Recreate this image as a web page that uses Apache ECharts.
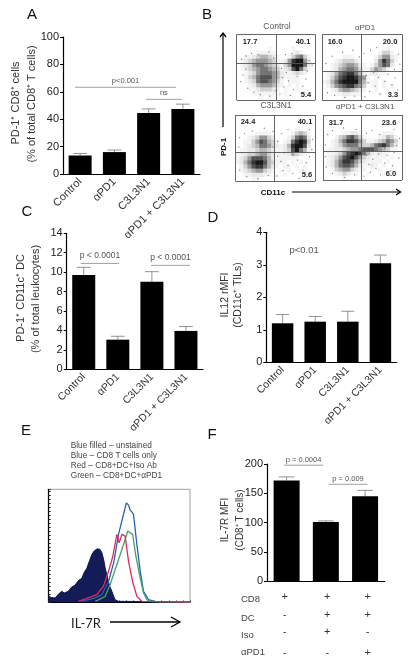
<!DOCTYPE html>
<html><head><meta charset="utf-8">
<style>html,body{margin:0;padding:0;background:#fff}#c{width:416px;height:667px}</style>
<script src="https://cdn.jsdelivr.net/npm/echarts@6/dist/echarts.min.js"></script>
</head><body><div id="c"></div>
<script>
// ---------- bar panels ----------
const groups = ['Control', 'αPD1', 'C3L3N1', 'αPD1 + C3L3N1'];
const aValues = [13.5, 16, 44.5, 47.5];
const aTops   = [15, 17.5, 47.5, 51];
const cValues = [9.7, 3.05, 9.0, 3.95];
const cTops   = [10.5, 3.4, 10.05, 4.4];
const dValues = [1.2, 1.25, 1.25, 3.05];
const dTops   = [1.47, 1.41, 1.57, 3.3];
const fGroups = ['g1', 'g2', 'g3'];
const fValues = [172, 101, 145];
const fTops   = [178, 103, 155];
// significance brackets: [from band, to band, value, text]
const aSig = [[-0.15, 2.8, 63.3, 'p<0.001'], [1.92, 2.97, 54.5, 'ns']];
const cSig = [[-0.09, 1.04, 10.9, 'p < 0.0001'], [1.97, 3.12, 10.7, 'p < 0.0001']];
const dSig = [[0.66, 0.66, 3.25, 'p<0.01']];
const fSig = [[-0.07, 0.93, 198, 'p = 0.0004'], [1.07, 2.06, 165.4, 'p = 0.009']];
// treatment table under F
const fRows = ['CD8', 'DC', 'Iso', 'αPD1'];
const fSigns = [['+','+','+'], ['-','+','+'], ['-','+','-'], ['-','-','+']];

// ---------- flow cytometry density (20 x 16 cells, 0-9) ----------
const dotControl = [
"00000000000000000000","00000000000000000000","00000000000000000000","00000000100000100000",
"00000111110000121000","00112344321001356310","01234555431125899520","01235665432135999620",
"01234566543123796310","00123566654211232100","00134677754211110000","00123677653101110000",
"00012455542101010000","00011233321010010000","00001111110010001000","00000010100000000000"];
const dotPD1 = [
"00000000000000000000","00000000000000000000","00000000000000000000","00000000000000011000",
"00000000000000133100","00000111000001355210","00012333210002586310","00123455421013576200",
"00124566531135431000","01246788642122110000","01357899865101100000","12468999964111010000",
"01356788653011010100","00124554321001001000","00011221110000100010","00000100000000000000"];
const dotC3 = [
"00000000000000000000","00000000000000000000","00000000000000000000","00000000000000011000",
"00000111100000134310","00012355320001367620","00113576431012689830","00123466532124899720",
"01122344321123796410","11233455321112432100","12357776421111110000","12468997431110101000",
"01357886421011010100","01234553210101001000","00112221100010000100","00001100000000000000"];
const dotCombo = [
"00000000000000000000","00000000000000000000","00000000000000000000","00000000000000000000",
"00000112210000011100","00013467531000124310","00124688753112346530","00123566643346786420",
"01122345567776543110","01123578986421211000","01235789753211110100","01246887532111101000",
"01246776421121010000","00134553211010100100","00012321100100010000","00000100000000000000"];
// individual outlying events seen around the clusters: [% across, % down]
const strayControl = [[6,38],[12,33],[19,29],[28,31],[41,27],[47,36],[62,31],[70,29],[92,40],[96,47],[57,52],[63,58],[71,55],[83,52],[90,56],[58,66],[66,71],[77,64],[88,68],[60,80],[72,84],[84,79],[55,91],[68,93],[8,62],[5,72],[14,82],[22,88],[30,92],[42,94],[49,86],[12,53]];
const strayPD1 = [[52,29],[60,24],[68,20],[95,30],[97,45],[12,33],[25,27],[38,24],[46,34],[4,44],[55,62],[64,57],[70,65],[82,60],[91,66],[57,73],[66,78],[78,71],[87,76],[94,84],[59,86],[72,90],[84,88],[53,94],[40,93],[28,95],[15,92],[6,88],[84,39],[76,46],[90,53],[48,80]];
const strayC3 = [[5,34],[11,28],[21,24],[36,20],[47,25],[58,28],[66,22],[93,22],[97,37],[4,48],[8,57],[53,62],[61,57],[72,60],[85,56],[93,63],[57,70],[66,76],[78,68],[89,72],[60,84],[72,88],[85,83],[52,92],[41,91],[28,96],[14,93],[5,83],[47,48],[53,40],[96,52],[80,96]];
const strayCombo = [[6,30],[12,24],[26,20],[42,22],[55,28],[62,24],[72,30],[90,22],[97,36],[3,46],[55,62],[63,68],[70,60],[81,62],[90,58],[96,66],[58,76],[67,82],[78,74],[88,78],[60,88],[73,92],[85,86],[52,94],[40,92],[27,96],[12,90],[4,80],[3,64],[48,72],[93,47],[78,51]];
const quadControl = ['17.7', '40.1', '5.4'];
const quadPD1 = ['16.0', '20.0', '3.3'];
const quadC3 = ['24.4', '40.1', '5.6'];
const quadCombo = ['31.7', '23.6', '6.0'];
// gate positions in percent of the plot
const gateControl = [50.4, 44.2];
const gatePD1 = [48.6, 56];
const gateC3 = [48.5, 56];
const gateCombo = [48.1, 56];

// ---------- histogram E: [intensity, % of max] ----------
const histFilled = [[0,5],[2,4],[4.5,3.5],[7,7],[9.2,9.5],[11,8],[13.9,9.5],[16,13],[18.7,15],[21,19],[23.4,21],[25,26],[27,30],[29,37],[30.5,42],[32,45],[34,47],[36,47],[37.6,44],[39,37],[40,30],[41,25],[42.3,18],[43.5,13],[44.7,9.5],[46,5],[47,2],[49.4,0.6],[100,0]];
const histBlue = [[23.4,0.6],[33,3.6],[37.6,6.5],[42.3,18],[46,35],[49.4,60],[52,73],[55,88],[56.5,86],[57.5,82],[60,78],[62.4,51],[64.8,27],[67.1,9.5],[70.7,2],[75.4,0.3],[100,0]];
const histGreen = [[33,0.6],[40,5],[43.5,15.5],[48.2,33],[51.8,46.6],[56,63],[59.4,60],[61.7,40.6],[64.3,24],[67.1,8],[69.5,2],[73,0.3],[100,0]];
const histRed = [[21,0.6],[28,3.6],[34,6.5],[38.8,14],[42.3,27],[45.4,40.6],[48.2,60],[49.9,52.6],[51.8,60],[54.1,58.5],[56.5,36],[59.4,18],[62.4,5],[65.9,0.6],[100,0]];
const histLegend = ['Blue filled – unstained', 'Blue – CD8 T cells only', 'Red – CD8+DC+Iso Ab', 'Green – CD8+DC+αPD1'];

// ---------- assembling the option ----------
const FONT = '"Liberation Sans", Arial, sans-serif';
const grid = [], xAxis = [], yAxis = [], series = [];

function barPanel(rect, cats, vals, tops, sig, yMax, step, barW, showLabels, labelSize, sigSize, sigGap) {
  const g = grid.length;
  grid.push({left: rect[0], top: rect[1], width: rect[2], height: rect[3]});
  xAxis.push({gridIndex: g, type: 'category', data: cats,
    axisLine: {show: true, onZero: false, lineStyle: {color: '#000', width: 1.2}},
    axisTick: {show: false},
    axisLabel: {show: showLabels, interval: 0, rotate: 45, margin: 6, fontSize: labelSize, fontFamily: FONT, color: '#333'}});
  yAxis.push({gridIndex: g, type: 'value', min: 0, max: yMax, interval: step,
    splitLine: {show: false},
    axisLine: {show: true, lineStyle: {color: '#000', width: 1.2}},
    axisTick: {show: true, length: 3, lineStyle: {color: '#000'}},
    axisLabel: {fontSize: 11, margin: 4, fontFamily: FONT, color: '#222'}});
  series.push({type: 'bar', xAxisIndex: g, yAxisIndex: g, data: vals, barWidth: barW,
    itemStyle: {color: '#000'}, silent: true, z: 2});
  series.push({type: 'custom', xAxisIndex: g, yAxisIndex: g, silent: true, z: 1,
    data: tops.map((t, i) => [i, t, vals[i]]),
    renderItem(p, api) {
      const top = api.coord([api.value(0), api.value(1)]);
      const bot = api.coord([api.value(0), api.value(2)]);
      const s = {stroke: '#777', lineWidth: 0.8};
      return {type: 'group', children: [
        {type: 'line', shape: {x1: top[0], y1: top[1], x2: bot[0], y2: bot[1]}, style: s},
        {type: 'line', shape: {x1: top[0] - barW * 0.3, y1: top[1], x2: top[0] + barW * 0.3, y2: top[1]}, style: s}]};
    }});
  series.push({type: 'custom', xAxisIndex: g, yAxisIndex: g, silent: true, z: 3,
    data: sig.map((s, i) => [i, s[2]]),
    renderItem(p, api) {
      const s = sig[api.value(0)];
      const base = api.coord([0, s[2]]);
      const band = api.size([1, 0])[0];
      const x0 = base[0] + s[0] * band, x1 = base[0] + s[1] * band;
      const kids = [{type: 'text', x: (x0 + x1) / 2, y: base[1] - sigGap,
        style: {text: s[3], font: sigSize + 'px ' + FONT, fill: '#555', textAlign: 'center', textVerticalAlign: 'middle'}}];
      if (x1 > x0) kids.push({type: 'line', shape: {x1: x0, y1: base[1], x2: x1, y2: base[1]},
        style: {stroke: '#777', lineWidth: 0.7}});
      return {type: 'group', children: kids};
    }});
}

barPanel([63, 37, 137, 137], groups, aValues, aTops, aSig, 100, 20, 23, true, 11, 7.5, 6);
barPanel([66.7, 233.3, 136.3, 136], groups, cValues, cTops, cSig, 14, 2, 23, true, 10.5, 8.5, 8);
barPanel([266.3, 232.3, 130.4, 130], groups, dValues, dTops, dSig, 4, 1, 21.5, true, 10.5, 9.5, 6);
barPanel([267, 464, 117.7, 117.3], fGroups, fValues, fTops, fSig, 200, 50, 26, false, 10, 7.5, 5);

// dot plots
const heatSeries = [];
function dotPanel(rect, rows, gate, stray) {
  const g = grid.length;
  grid.push({left: rect[0], top: rect[1], width: rect[2], height: rect[3]});
  xAxis.push({gridIndex: g, type: 'category', show: false, data: rows[0].split('').map((_, i) => i)});
  yAxis.push({gridIndex: g, type: 'category', show: false, inverse: true, data: rows.map((_, i) => i)});
  const data = [];
  rows.forEach((r, y) => r.split('').forEach((d, x) => data.push([x, y, +d])));
  heatSeries.push(series.length);
  series.push({type: 'heatmap', xAxisIndex: g, yAxisIndex: g, data, silent: true, z: 2,
    itemStyle: {borderWidth: 0}, emphasis: {disabled: true}, progressive: 0});
  const o = grid.length;
  grid.push({left: rect[0], top: rect[1], width: rect[2], height: rect[3]});
  xAxis.push({gridIndex: o, type: 'value', min: 0, max: 100, show: false});
  yAxis.push({gridIndex: o, type: 'value', min: 0, max: 100, show: false, inverse: true});
  const lines = [{xAxis: 0}, {xAxis: 100}, {xAxis: gate[0]}, {yAxis: 0}, {yAxis: 100}, {yAxis: gate[1]}];
  series.push({type: 'scatter', xAxisIndex: o, yAxisIndex: o, data: stray, silent: true, z: 5,
    symbolSize: 1.3, itemStyle: {color: '#555', opacity: 0.8},
    markLine: {silent: true, symbol: 'none', animation: false, label: {show: false},
      lineStyle: {color: '#555', width: 0.9, type: 'solid'}, data: lines}});
}
dotPanel([236.7, 34.3, 78.6, 65.7], dotControl, gateControl, strayControl);
dotPanel([322.7, 34.3, 79.6, 66.4], dotPD1, gatePD1, strayPD1);
dotPanel([235.7, 115, 79.3, 66.3], dotC3, gateC3, strayC3);
dotPanel([323, 115, 79, 65], dotCombo, gateCombo, strayCombo);

// histogram
{
  const g = grid.length;
  grid.push({left: 48.7, top: 489.3, width: 141.3, height: 112.7, show: true, borderColor: '#888', borderWidth: 0.8});
  xAxis.push({gridIndex: g, type: 'value', min: 0, max: 100, interval: 5, splitLine: {show: false},
    axisLine: {show: true, lineStyle: {color: '#000', width: 1}},
    axisTick: {show: true, inside: true, length: 1.5, lineStyle: {color: '#333'}}, axisLabel: {show: false}});
  yAxis.push({gridIndex: g, type: 'value', min: 0, max: 100, interval: 3.5, splitLine: {show: false},
    axisLine: {show: true, lineStyle: {color: '#000', width: 1.2}},
    axisTick: {show: true, inside: true, length: 2, lineStyle: {color: '#222'}}, axisLabel: {show: false}});
  const base = {type: 'line', xAxisIndex: g, yAxisIndex: g, showSymbol: false, silent: true};
  series.push({...base, data: histFilled, lineStyle: {color: '#12184f', width: 1}, areaStyle: {color: '#141c58', opacity: 1}, z: 2});
  series.push({...base, data: histBlue, lineStyle: {color: '#2a62ad', width: 1.3}, z: 3});
  series.push({...base, data: histGreen, lineStyle: {color: '#46a06a', width: 1.3}, z: 4});
  series.push({...base, data: histRed, lineStyle: {color: '#dc2a62', width: 1.3}, z: 5});
}

// free text
const gfx = [];
function txt(x, y, text, size, opt) {
  opt = opt || {};
  gfx.push({type: 'text', x, y, rotation: opt.rot || 0, silent: true, z: 10,
    style: {text, font: (opt.weight || '') + ' ' + size + 'px ' + (opt.family || FONT),
      fill: opt.fill || '#333', textAlign: opt.align || 'center', textVerticalAlign: 'middle'}});
}
function seg(x1, y1, x2, y2, w) {
  gfx.push({type: 'line', silent: true, z: 10, shape: {x1, y1, x2, y2}, style: {stroke: '#000', lineWidth: w || 1.2}});
}
function head(points) {
  gfx.push({type: 'polyline', silent: true, z: 10, shape: {points}, style: {stroke: '#000', fill: null, lineWidth: 1.3}});
}
const UP = Math.PI / 2;
[['A', 32, 15], ['B', 207, 15], ['C', 27, 212], ['D', 213, 218], ['E', 26, 431], ['F', 212, 435]]
  .forEach(l => txt(l[1], l[2], l[0], 15, {fill: '#111'}));
txt(16, 103, 'PD-1⁺ CD8⁺ cells', 11, {rot: UP});
txt(32, 104, '(% of total CD8⁺ T cells)', 11, {rot: UP});
txt(21, 298, 'PD-1⁺ CD11c⁺ DC', 11, {rot: UP});
txt(36, 299, '(% of total leukocytes)', 11, {rot: UP});
txt(225, 295, 'IL12 rMFI', 10.5, {rot: UP});
txt(238, 295, '(CD11c⁺ TILs)', 10.5, {rot: UP});
txt(225, 520, 'IL-7R MFI', 10, {rot: UP});
txt(240, 520, '(CD8⁺ T cells)', 10, {rot: UP});

// B titles, quadrant values, axes
txt(277, 27, groups[0], 8.5, {fill: '#555'});
txt(365, 28, groups[1], 8, {fill: '#555'});
txt(276, 106, groups[2], 8.5, {fill: '#555'});
txt(365, 107, groups[3], 8, {fill: '#555'});
const BOLD = {weight: 'bold', fill: '#222'};
[[quadControl, 250, 303, 306, 42, 95], [quadPD1, 335, 390, 393, 41.5, 95],
 [quadC3, 248, 305, 307, 122, 175], [quadCombo, 336, 389, 391, 123, 174]].forEach(q => {
  txt(q[1], q[4], q[0][0], 7.5, BOLD);
  txt(q[2], q[4], q[0][1], 7.5, BOLD);
  txt(q[3], q[5], q[0][2], 7.5, BOLD);
});
txt(224, 147, 'PD-1', 8, {weight: 'bold', fill: '#111', rot: UP});
txt(273, 193, 'CD11c', 8, {weight: 'bold', fill: '#111'});
seg(223, 127, 223, 33);
head([[220, 37], [223, 33], [226, 37]]);
seg(292, 192, 400, 192);
head([[396, 189], [400.5, 192], [396, 195]]);

// E legend and axis
histLegend.forEach((t, i) => txt(70.7, 446 + i * 10, t, 8.3, {align: 'left', fill: '#444'}));
txt(86, 624, 'IL-7R', 13, {fill: '#222', family: 'Lato, sans-serif'});
seg(110, 622, 179, 622, 1.6);
head([[171, 617], [180, 622], [171, 627]]);

// F table
const colX = [284.7, 327.3, 367.7];
const signY = [596.7, 615, 632.3, 653.3];
const rowY = [599, 618, 635, 652.7];
fRows.forEach((r, i) => {
  txt(241, rowY[i], r, 9.5, {align: 'left', fill: '#444'});
  fSigns[i].forEach((s, j) => txt(colX[j], signY[i], s, s === '+' ? 11 : 10, {fill: '#333'}));
});

const chart = echarts.init(document.getElementById('c'), null, {renderer: 'canvas'});
chart.setOption({
  animation: false, backgroundColor: '#fff', tooltip: {show: false},
  grid, xAxis, yAxis, series, graphic: {elements: gfx},
  visualMap: {show: false, type: 'continuous', min: 0, max: 9, seriesIndex: heatSeries,
    inRange: {color: ['#ffffff', '#e6e6e6', '#a8a8a8', '#5c5c5c', '#161616']}}
});
</script></body></html>
